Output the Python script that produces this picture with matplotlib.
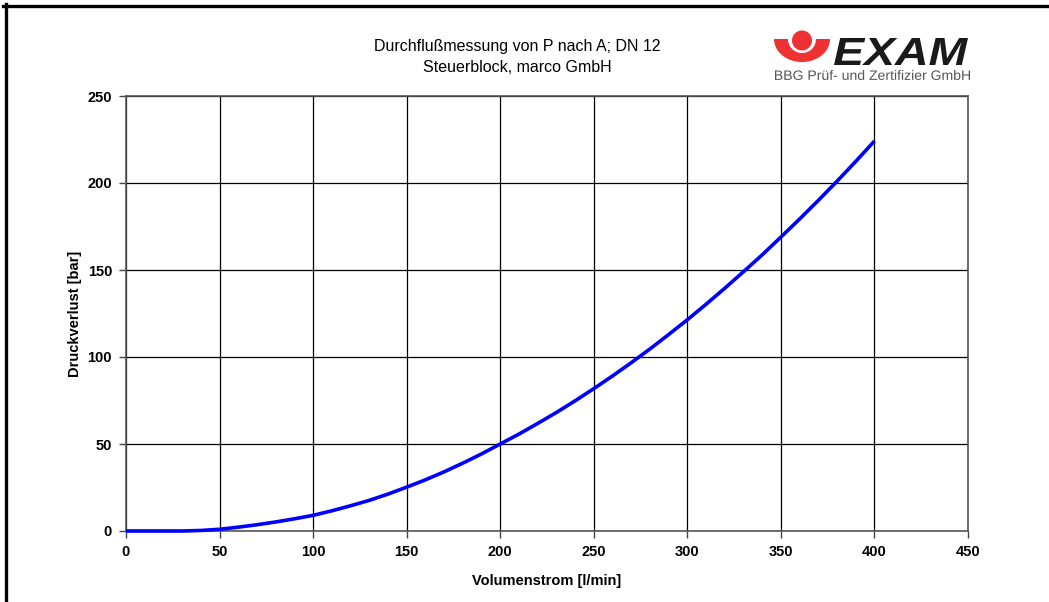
import matplotlib
matplotlib.use("Agg")
import matplotlib.pyplot as plt
from matplotlib.patches import Circle, PathPatch
from matplotlib.lines import Line2D
from matplotlib.textpath import TextPath
from matplotlib.font_manager import FontProperties
from matplotlib.transforms import Affine2D
import numpy as np

# ---- data ----
flow = [0, 10, 20, 30, 40, 50, 60, 70, 80, 90, 100, 110, 120, 130, 140, 150,
        160, 170, 180, 190, 200, 210, 220, 230, 240, 250, 260, 270, 280, 290,
        300, 310, 320, 330, 340, 350, 360, 370, 380, 390, 400]
pressure = [0, 0, 0, 0, 0.3, 1.0, 2.2, 3.6, 5.2, 7.0, 9.0, 11.6, 14.5, 17.6,
            21.2, 25.2, 29.4, 34.0, 39.0, 44.3, 50.0, 55.7, 61.8, 68.1, 74.8,
            81.8, 89.1, 96.7, 104.6, 112.9, 121.4, 130.3, 139.5, 149.0, 158.7,
            168.9, 179.3, 190.0, 201.0, 212.4, 224.1]
x_ticks = [0, 50, 100, 150, 200, 250, 300, 350, 400, 450]
y_ticks = [0, 50, 100, 150, 200, 250]
title_lines = ["Durchflußmessung von P nach A; DN 12", "Steuerblock, marco GmbH"]
xlabel = "Volumenstrom [l/min]"
ylabel = "Druckverlust [bar]"
logo_word = "EXAM"
logo_sub = "BBG Prüf- und Zertifizier GmbH"

W, H = 1049, 602
plt.rcParams['font.family'] = ['Liberation Sans', 'DejaVu Sans']
fig = plt.figure(figsize=(W / 100, H / 100), dpi=100)
fig.patch.set_facecolor('white')

def fx(px):
    return px / W

def fy(py):
    return 1 - py / H

ax = fig.add_axes([fx(126), fy(531), fx(968) - fx(126), fy(96) - fy(531)])
ax.set_xlim(0, 450)
ax.set_ylim(0, 250)
ax.set_xticks(x_ticks)
ax.set_yticks(y_ticks)
ax.grid(True, color='black', linewidth=0.9)
ax.set_axisbelow(True)
for s in ax.spines.values():
    s.set_color('#555555')
    s.set_linewidth(1.2)
ax.tick_params(direction='out', length=5, width=1, color='#444444',
               labelsize=10.5, pad=5)
for lab in ax.get_xticklabels() + ax.get_yticklabels():
    lab.set_fontweight('bold')

ax.plot(flow, pressure, color='#0000FF', linewidth=2.6, solid_capstyle='butt',
        solid_joinstyle='round', zorder=3, clip_on=False)

ax.set_xlabel(xlabel, fontsize=10.5, fontweight='bold', labelpad=11)
ax.set_ylabel(ylabel, fontsize=10.5, fontweight='bold', labelpad=4)

fig.text(fx(517), fy(47), title_lines[0], ha='center', va='center', fontsize=11.5)
fig.text(fx(517), fy(67), title_lines[1], ha='center', va='center', fontsize=11.5)

# ---- logo ----
lax = fig.add_axes([fx(770), fy(85), fx(1000) - fx(770), fy(25) - fy(85)])
lax.set_xlim(770, 1000)
lax.set_ylim(85, 25)
lax.axis('off')
red = '#EE3233'
t = np.linspace(0, np.pi, 120)
ox = 802 + 28 * np.cos(t)
oy = 39 + 23 * np.sin(t)
ix = 802 + 14 * np.cos(t[::-1])
iy = 39 + 14 * np.sin(t[::-1])
lax.fill(np.concatenate([ox, ix]), np.concatenate([oy, iy]), color=red, lw=0)
lax.add_patch(Circle((802, 40.5), 10, color=red, lw=0))


def fit_text(axis, s, x0, x1, ytop, ybot, color, weight='normal', style='normal'):
    prop = FontProperties(family='Liberation Sans', weight=weight, style=style)
    path = TextPath((0, 0), s, size=10, prop=prop)
    ext = path.get_extents()
    sx = (x1 - x0) / ext.width
    sy = (ybot - ytop) / ext.height
    tr = Affine2D().translate(-ext.x0, -ext.y0).scale(sx, -sy).translate(x0, ybot)
    axis.add_patch(PathPatch(tr.transform_path(path), facecolor=color, lw=0))


fit_text(lax, logo_word, 834, 968, 38, 65, '#1a1a1a', weight='bold', style='italic')
fit_text(lax, logo_sub, 775, 970, 70, 80, '#555555')

# ---- frame lines ----
fig.add_artist(Line2D([fx(3), 1], [fy(5.5), fy(5.5)], color='black', linewidth=2.4,
                      transform=fig.transFigure))
fig.add_artist(Line2D([fx(5.5), fx(5.5)], [0, fy(4)], color='black', linewidth=2.4,
                      transform=fig.transFigure))

fig.savefig('out.png', dpi=100)
